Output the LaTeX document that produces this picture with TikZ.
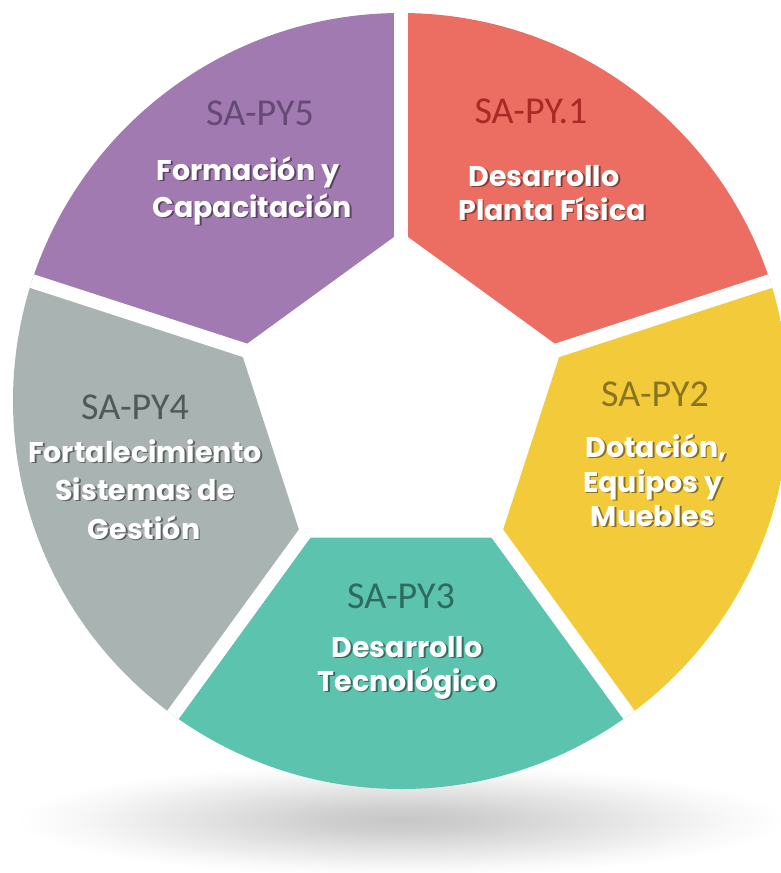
\documentclass[tikz,border=0pt]{standalone}
\usepackage{fontspec}
\setmainfont{Carlito}
\newfontfamily\hfont{Poppins}
\usetikzlibrary{calc}
\definecolor{cred}{HTML}{EC6D61}
\definecolor{cyel}{HTML}{F3CB3A}
\definecolor{cteal}{HTML}{5CC3AE}
\definecolor{cgray}{HTML}{A9B3B2}
\definecolor{cpur}{HTML}{A27AB2}
\definecolor{tred}{HTML}{A82A24}
\definecolor{tyel}{HTML}{8A7420}
\definecolor{tteal}{HTML}{2E6B5E}
\definecolor{tgray}{HTML}{52595A}
\definecolor{tpur}{HTML}{654A75}
\colorlet{sred}{cred!55!black}
\colorlet{syel}{cyel!55!black}
\colorlet{steal}{cteal!55!black}
\colorlet{sgray}{cgray!55!black}
\colorlet{spur}{cpur!55!black}
\pgfdeclareradialshading{floorshadow}{\pgfpoint{0bp}{0bp}}{color(0bp)=(black!22); color(5bp)=(black!19); color(14bp)=(black!10); color(21bp)=(black!3); color(25bp)=(white); color(50bp)=(white)}
\newcommand{\shl}[5]{%
  \node[lbl] (#1) at (#2,#3) {\makebox[0pt][l]{\hspace*{1.8pt}\raisebox{-1.8pt}{\color{#5}#4}}#4};}
\begin{document}
\begin{tikzpicture}[x=1pt,y=-1pt,
  code/.style={font=\fontsize{38}{40}\selectfont, anchor=base, inner sep=0pt},
  lbl/.style={font=\hfont\bfseries\fontsize{28.5}{30}\selectfont, anchor=base, inner sep=0pt, text=white},
  gap/.style={white, line width=14pt}]
\useasboundingbox (0,0) rectangle (781,873);
\shade[shading=floorshadow] (401,820) ellipse [x radius=384, y radius=56];
\coordinate (C) at (401,401);
\begin{scope}
  \clip (C) circle [radius=388];
  \fill[cred]  (C) -- +(-90:600) -- +(-18:600) -- cycle;
  \fill[cyel]  (C) -- +(-18:600) -- +(54:600) -- cycle;
  \fill[cteal] (C) -- +(54:600) -- +(126:600) -- cycle;
  \fill[cgray] (C) -- +(126:600) -- +(198:600) -- cycle;
  \fill[cpur]  (C) -- +(198:600) -- +(270:600) -- cycle;
  \fill[white] ($(C)+(-90:169)$) -- ($(C)+(-18:169)$) -- ($(C)+(54:169)$) -- ($(C)+(126:169)$) -- ($(C)+(198:169)$) -- cycle;
  \foreach \a in {-90,-18,54,126,198} \draw[gap] (C) -- +(\a:420);
\end{scope}
\node[code, text=tred]  (c1) at (531,123) {SA-PY.1};
\node[code, text=tyel]  (c2) at (655,406) {SA-PY2};
\node[code, text=tteal] (c3) at (401,608) {SA-PY3};
\node[code, text=tgray] (c4) at (135,419) {SA-PY4};
\node[code, text=tpur]  (c5) at (260,125) {SA-PY5};
\shl{a1}{544}{186}{Desarrollo}{sred}
\shl{a2}{552}{220}{Planta Física}{sred}
\shl{b1}{656}{457}{Dotación,}{syel}
\shl{b2}{653}{492}{Equipos y}{syel}
\shl{b3}{653}{526}{Muebles}{syel}
\shl{d1}{407}{657}{Desarrollo}{steal}
\shl{d2}{407}{691}{Tecnológico}{steal}
\shl{e1}{145}{462}{Fortalecimiento}{sgray}
\shl{e2}{145}{500}{Sistemas de}{sgray}
\shl{e3}{144}{539}{Gestión}{sgray}
\shl{f1}{248}{180}{Formación y}{spur}
\shl{f2}{252}{217}{Capacitación}{spur}
\end{tikzpicture}
\end{document}
